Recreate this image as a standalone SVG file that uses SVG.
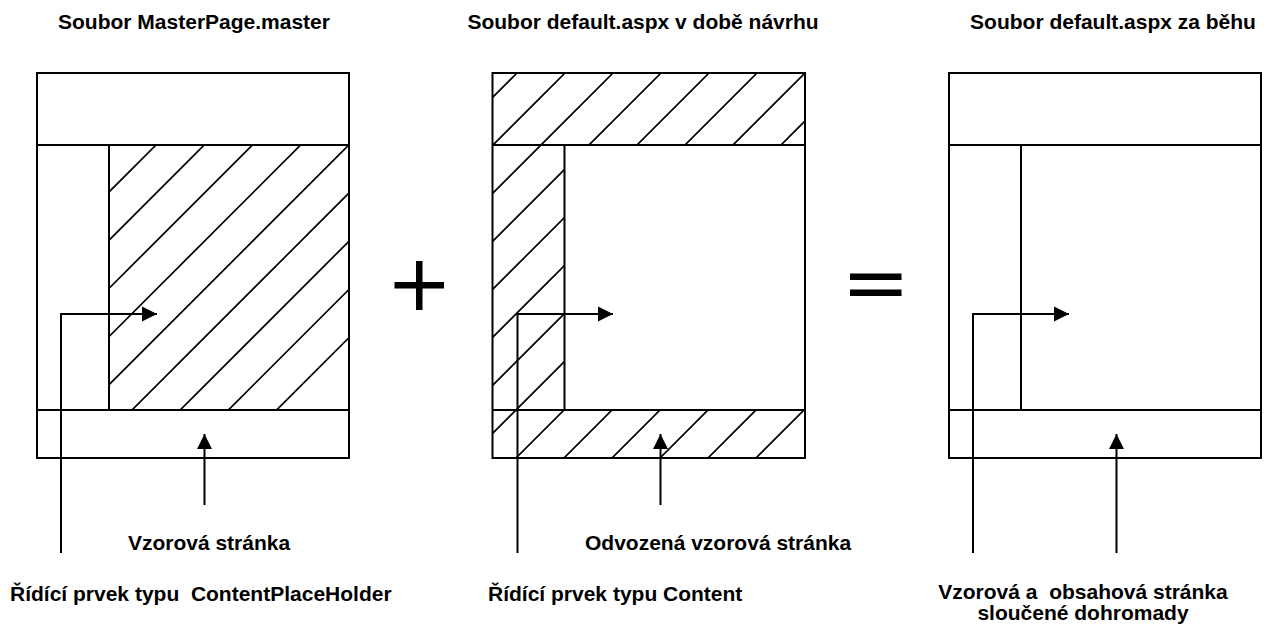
<svg xmlns="http://www.w3.org/2000/svg" width="1271" height="625" viewBox="0 0 1271 625">
<style>
.frame{fill:none;stroke:#000;stroke-width:2}
.ln{stroke:#000;stroke-width:2;fill:none}
.hatch{stroke:#000;stroke-width:1.7}
.conn{stroke:#000;stroke-width:2;fill:none}
.t{font-family:"Liberation Sans",Arial,sans-serif;font-weight:bold;font-size:21px;fill:#000}
.mid{text-anchor:middle}
.sym{fill:#000}
</style>
<defs>
<marker id="ah" markerUnits="userSpaceOnUse" markerWidth="16" markerHeight="16" viewBox="0 0 16 16" refX="15" refY="8" orient="auto">
<path d="M0,0.5 L15,8 L0,15.5 Z" fill="#000"/>
</marker>
<clipPath id="c1"><rect x="109" y="145" width="240" height="265"/></clipPath>
<clipPath id="c2">
<rect x="492.5" y="73" width="312.5" height="72"/>
<rect x="492.5" y="145" width="72" height="265"/>
<rect x="492.5" y="410" width="312.5" height="48"/>
</clipPath>
</defs>
<rect width="1271" height="625" fill="#fff"/>

<!-- titles -->
<text class="t mid" x="194" y="29">Soubor MasterPage.master</text>
<text class="t mid" x="643" y="29">Soubor default.aspx v době návrhu</text>
<text class="t mid" x="1113" y="29">Soubor default.aspx za běhu</text>

<!-- panel 1 -->
<g id="master-page">
<g clip-path="url(#c1)" class="hatch">
<line x1="-149" y1="450" x2="301" y2="0"/>
<line x1="-100.8" y1="450" x2="349.2" y2="0"/>
<line x1="-52.6" y1="450" x2="397.4" y2="0"/>
<line x1="-4.4" y1="450" x2="445.6" y2="0"/>
<line x1="43.8" y1="450" x2="493.8" y2="0"/>
<line x1="92" y1="450" x2="542" y2="0"/>
<line x1="140.2" y1="450" x2="590.2" y2="0"/>
<line x1="188.4" y1="450" x2="638.4" y2="0"/>
<line x1="236.6" y1="450" x2="686.6" y2="0"/>
</g>
<rect class="frame" x="37" y="73" width="312" height="385"/>
<line class="ln" x1="37" y1="145" x2="349" y2="145"/>
<line class="ln" x1="37" y1="410" x2="349" y2="410"/>
<line class="ln" x1="109" y1="145" x2="109" y2="410"/>
</g>

<!-- plus -->
<g id="plus">
<rect class="sym" x="416" y="261" width="6.5" height="49"/>
<rect class="sym" x="394.5" y="282" width="49.5" height="6.5"/>
</g>

<!-- panel 2 -->
<g id="default-design">
<g clip-path="url(#c2)" class="hatch">
<line x1="90" y1="500" x2="590" y2="0"/>
<line x1="138" y1="500" x2="638" y2="0"/>
<line x1="186" y1="500" x2="686" y2="0"/>
<line x1="234" y1="500" x2="734" y2="0"/>
<line x1="282" y1="500" x2="782" y2="0"/>
<line x1="330" y1="500" x2="830" y2="0"/>
<line x1="378" y1="500" x2="878" y2="0"/>
<line x1="426" y1="500" x2="926" y2="0"/>
<line x1="474" y1="500" x2="974" y2="0"/>
<line x1="522" y1="500" x2="1022" y2="0"/>
<line x1="570" y1="500" x2="1070" y2="0"/>
<line x1="618" y1="500" x2="1118" y2="0"/>
<line x1="666" y1="500" x2="1166" y2="0"/>
<line x1="714" y1="500" x2="1214" y2="0"/>
</g>
<rect class="frame" x="492.5" y="73" width="312.5" height="385"/>
<line class="ln" x1="492.5" y1="145" x2="805" y2="145"/>
<line class="ln" x1="492.5" y1="410" x2="805" y2="410"/>
<line class="ln" x1="564.5" y1="145" x2="564.5" y2="410"/>
</g>

<!-- equals -->
<g id="equals">
<rect class="sym" x="850" y="273.5" width="51.5" height="6.5"/>
<rect class="sym" x="850" y="289.5" width="51.5" height="6.5"/>
</g>

<!-- panel 3 -->
<g id="default-runtime">
<rect class="frame" x="949" y="73" width="312" height="385"/>
<line class="ln" x1="949" y1="145" x2="1261" y2="145"/>
<line class="ln" x1="949" y1="410" x2="1261" y2="410"/>
<line class="ln" x1="1021" y1="145" x2="1021" y2="410"/>
</g>

<!-- connectors -->
<g id="connectors">
<polyline class="conn" points="61,553 61,314 157,314" marker-end="url(#ah)"/>
<line class="conn" x1="204.5" y1="505" x2="204.5" y2="434" marker-end="url(#ah)"/>
<polyline class="conn" points="517.5,553 517.5,314 613,314" marker-end="url(#ah)"/>
<line class="conn" x1="660.5" y1="505" x2="660.5" y2="434" marker-end="url(#ah)"/>
<polyline class="conn" points="973,553 973,314 1069,314" marker-end="url(#ah)"/>
<line class="conn" x1="1116.5" y1="553" x2="1116.5" y2="434" marker-end="url(#ah)"/>
</g>

<!-- labels -->
<text class="t mid" x="209" y="550">Vzorová stránka</text>
<text class="t" x="585" y="550">Odvozená vzorová stránka</text>
<text class="t" x="10" y="601" font-size="21.3" xml:space="preserve">Řídící prvek typu  ContentPlaceHolder</text>
<text class="t" x="488" y="601">Řídící prvek typu Content</text>
<text class="t mid" x="1083" y="599" xml:space="preserve">Vzorová a  obsahová stránka</text>
<text class="t mid" x="1083" y="620">sloučené dohromady</text>
</svg>
